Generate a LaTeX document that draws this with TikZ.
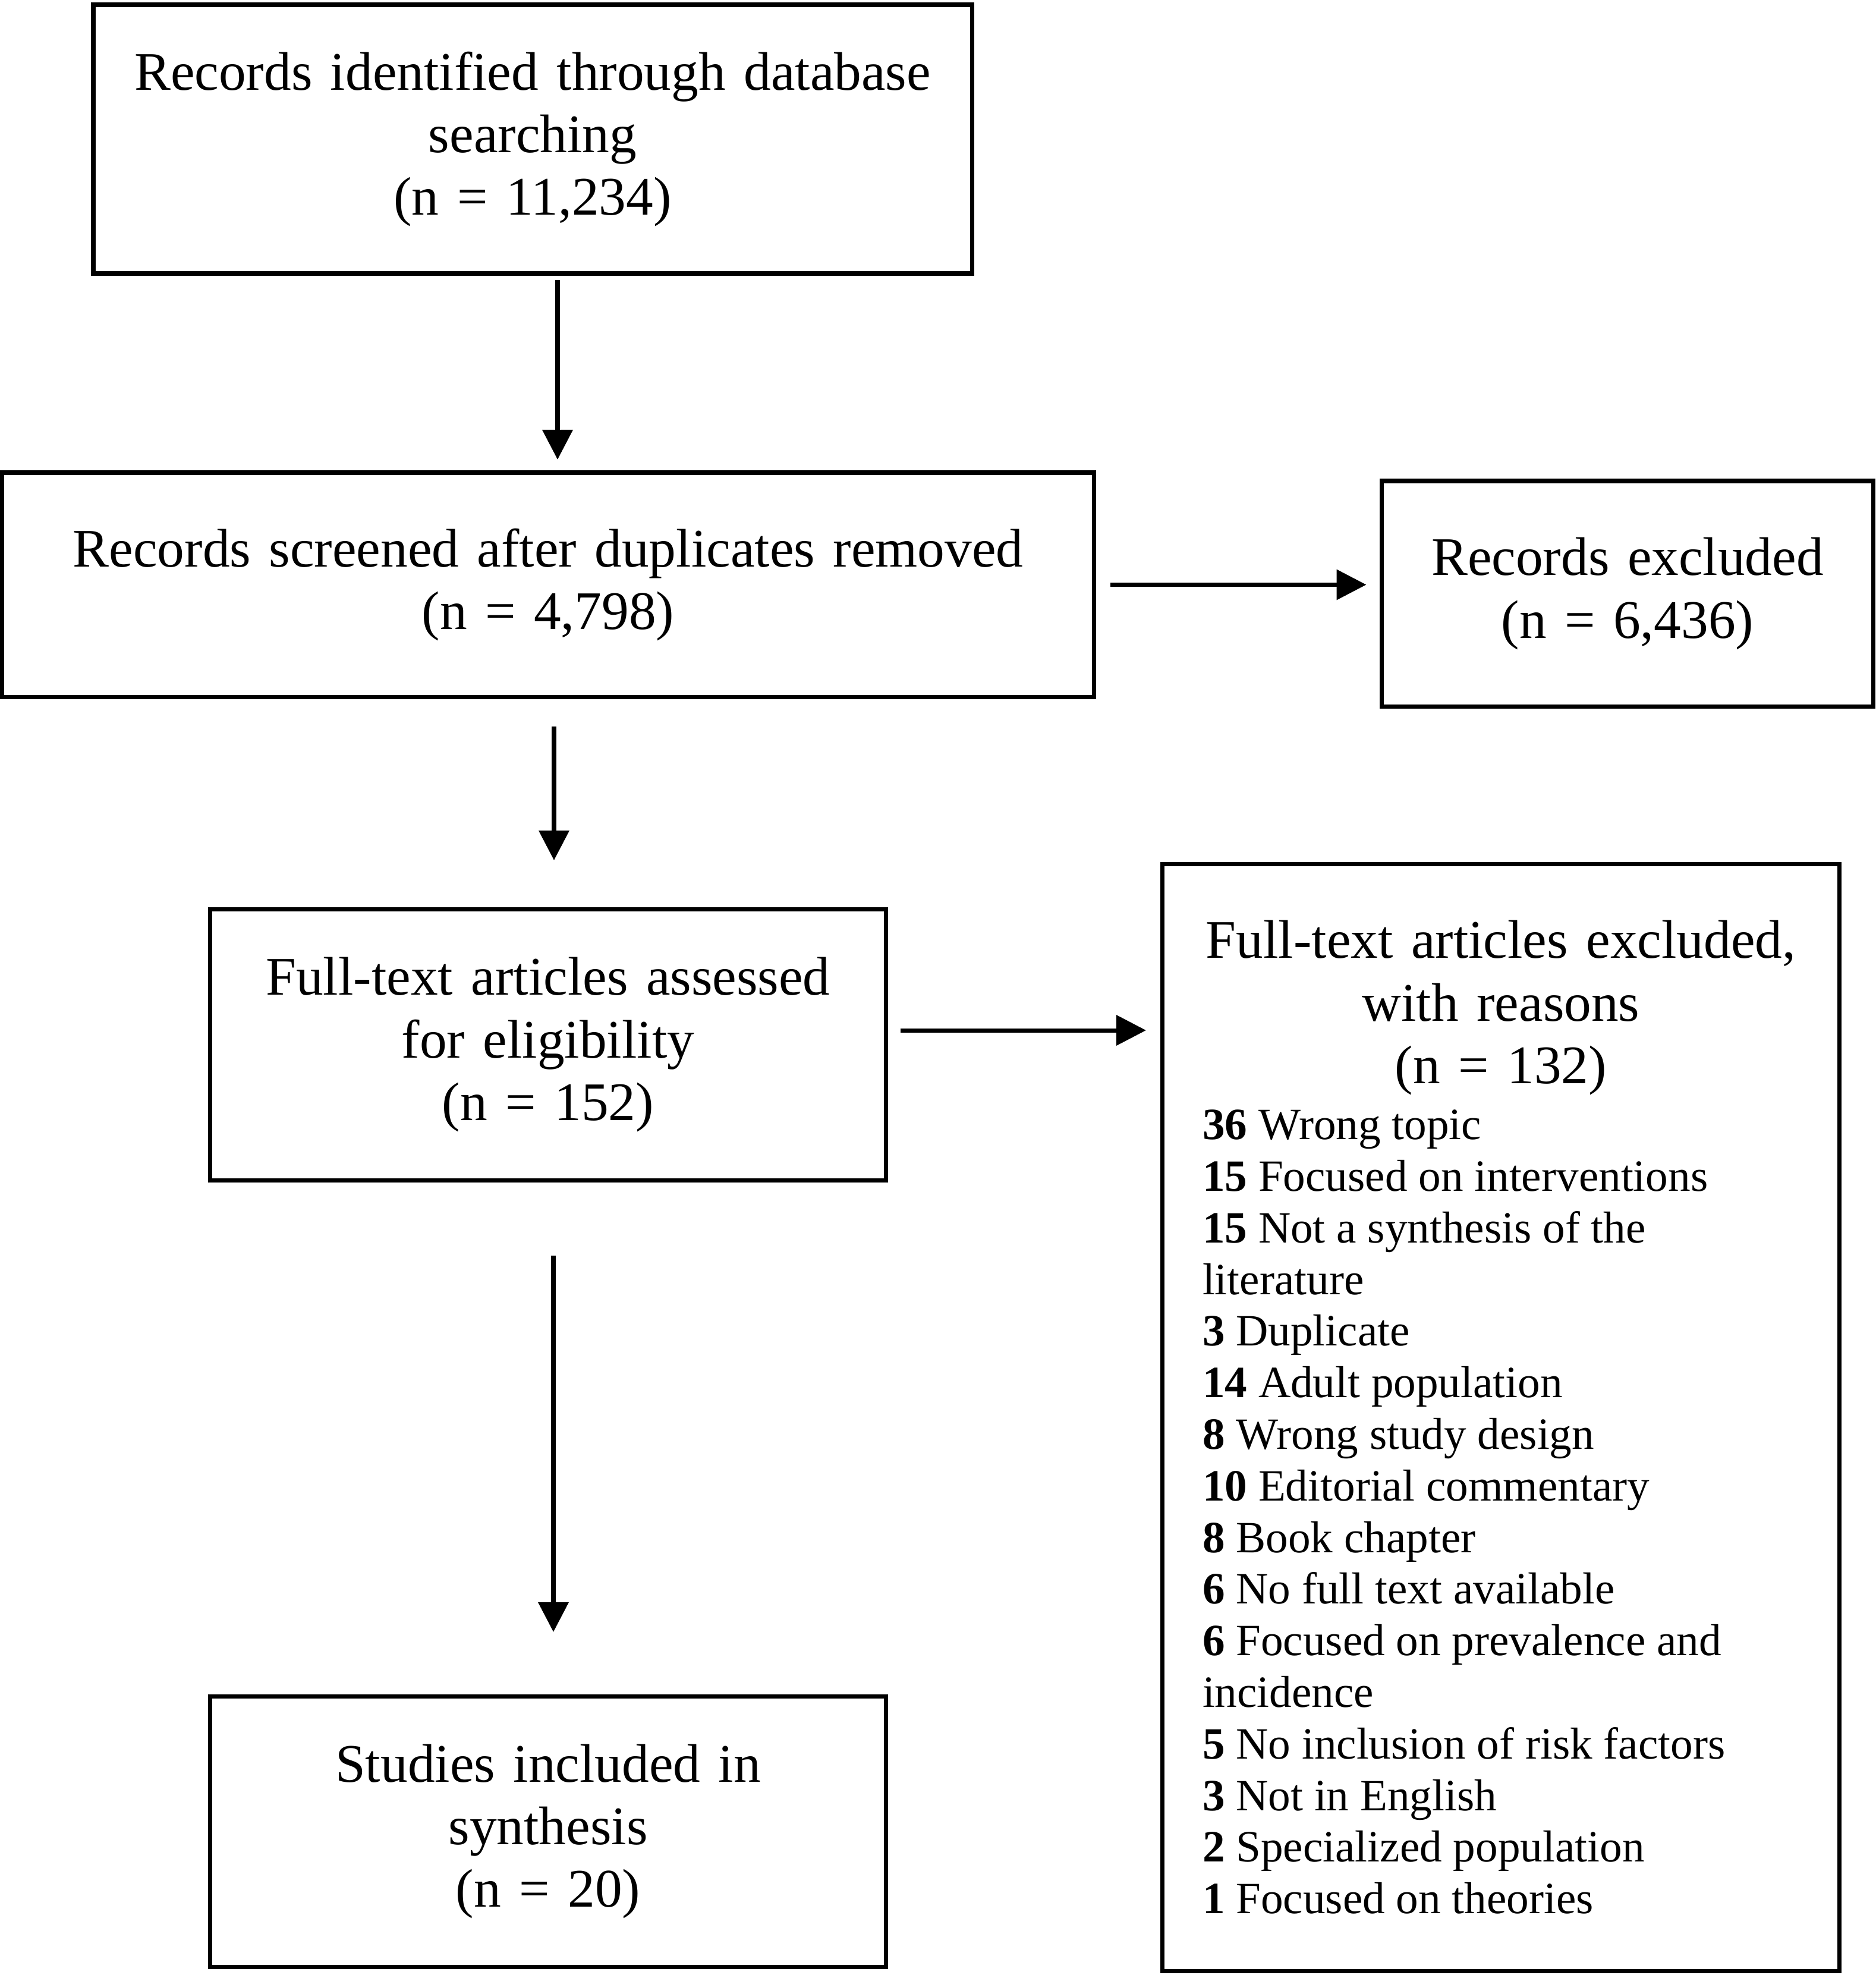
\documentclass[tikz,border=0pt]{standalone}
\usepackage{fontspec}
\setmainfont{Liberation Serif}
\usetikzlibrary{positioning, arrows.meta}
\newcommand{\boxfont}{\fontsize{26}{30}\selectfont\spaceskip.3333em\relax}
\newcommand{\listfont}{\fontsize{21.4}{24.7}\selectfont\spaceskip0pt\xspaceskip0pt\relax}

\begin{document}
\begin{tikzpicture}[on grid,
  box/.style={draw, line width=2pt, align=center, font=\boxfont},
  arr/.style={-{Triangle[length=5mm, width=5mm]}, line width=2pt}]
\useasboundingbox (0,0) rectangle (31.56,-33.22);
\node[box, minimum width=14.78cm, minimum height=4.52cm] (ident) at (8.96,-2.34) {Records identified through database\\ searching\\ (n = 11,234)};
\node[box, minimum width=18.37cm, minimum height=3.77cm, below right=7.495cm and 0.26cm of ident] (screen) {Records screened after duplicates removed\\ (n = 4,798)};
\node[box, minimum width=8.27cm, minimum height=3.79cm, below right=0.15cm and 18.16cm of screen] (recexcl) {Records excluded\\ (n = 6,436)};
\node[box, minimum width=11.37cm, minimum height=4.56cm, below=7.735cm of screen] (full) {Full-text articles assessed\\ for eligibility\\ (n = 152)};
\node[box, minimum width=11.39cm, minimum height=18.62cm, text width=10.04cm, below right=6.27cm and 16.03cm of full] (fullexcl) {Full-text articles excluded,\\ with reasons\\ (n = 132)\par\vspace{2pt}
{\raggedright\listfont
\textbf{36} Wrong topic\\
\textbf{15} Focused on interventions\\
\textbf{15} Not a synthesis of the\\
literature\\
\textbf{3} Duplicate\\
\textbf{14} Adult population\\
\textbf{8} Wrong study design\\
\textbf{10} Editorial commentary\\
\textbf{8} Book chapter\\
\textbf{6} No full text available\\
\textbf{6} Focused on prevalence and\\
incidence\\
\textbf{5} No inclusion of risk factors\\
\textbf{3} Not in English\\
\textbf{2} Specialized population\\
\textbf{1} Focused on theories\par}};
\node[box, minimum width=11.37cm, minimum height=4.55cm, below=13.235cm of full] (incl) {Studies included in\\ synthesis\\ (n = 20)};
\draw[arr, shorten <=0.07cm, shorten >=0.185cm] ([xshift=4.2mm]ident.south) -- ([xshift=4.2mm]ident.south |- screen.north);
\draw[arr, shorten <=0.24cm, shorten >=0.225cm] (screen.east) -- (screen.east -| recexcl.west);
\draw[arr, shorten <=0.465cm, shorten >=0.785cm] ([xshift=1mm]screen.south) -- ([xshift=1mm]screen.south |- full.north);
\draw[arr, shorten <=0.205cm, shorten >=0.24cm] ([yshift=2.4mm]full.east) -- ([yshift=2.4mm]full.east -| fullexcl.west);
\draw[arr, shorten <=1.235cm, shorten >=1.045cm] ([xshift=0.9mm]full.south) -- ([xshift=0.9mm]full.south |- incl.north);
\end{tikzpicture}
\end{document}
